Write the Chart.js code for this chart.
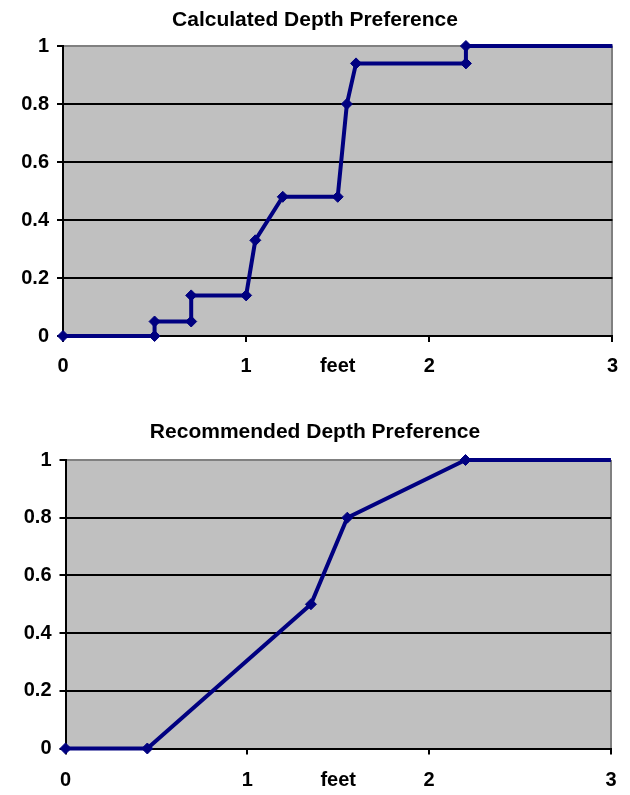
<!DOCTYPE html>
<html>
<head>
<meta charset="utf-8">
<script src="https://cdn.jsdelivr.net/npm/chart.js@4"></script>
<style>
  html, body { margin: 0; padding: 0; background: #ffffff; }
  canvas { position: absolute; left: 0; }
  #calc { top: 0; }
  #rec { top: 395px; }
</style>
</head>
<body>
<canvas id="calc" width="630" height="395"></canvas>
<canvas id="rec" width="630" height="400"></canvas>
<script>
// Calculated curve: depth (feet) vs. preference
const calcDepth = [0, 0.5, 0.5, 0.7, 0.7, 1.0, 1.05, 1.2, 1.5, 1.55, 1.6, 2.2, 2.2, 3];
const calcPref  = [0, 0,   0.05, 0.05, 0.14, 0.14, 0.33, 0.48, 0.48, 0.8, 0.94, 0.94, 1, 1];

// Recommended curve
const recDepth = [0, 0.45, 1.35, 1.55, 2.2, 3];
const recPref  = [0, 0,    0.5,  0.8,  1,   1];

const xTicks = [0, 1, 2, 3];
const yTicks = [0, 0.2, 0.4, 0.6, 0.8, 1];

const FONT = "'Liberation Sans', Arial, sans-serif";
const NAVY = '#000080';
const PLOT_BG = '#c0c0c0';
const TICK_SIZE = 20;
const TITLE_SIZE = 21;

// grey plot-area fill behind the grid
const plotBackground = {
  id: 'plotBackground',
  beforeDraw(chart) {
    const { ctx, chartArea: a } = chart;
    ctx.save();
    ctx.fillStyle = PLOT_BG;
    ctx.fillRect(a.left, a.top, a.right - a.left, a.bottom - a.top);
    ctx.restore();
  }
};

function makeChart(id, title, xs, ys, geo) {
  const pts = xs.map((x, i) => ({ x: x, y: ys[i] }));
  // the trailing point only carries the line to the right edge
  const radii = xs.map((x, i) => (i === xs.length - 1 ? 0 : 5.5));
  return new Chart(document.getElementById(id), {
    type: 'scatter',
    data: {
      datasets: [{
        data: pts,
        showLine: true,
        tension: 0,
        borderColor: NAVY,
        borderWidth: 4,
        pointStyle: 'rectRot',
        pointRadius: radii,
        pointBackgroundColor: NAVY,
        pointBorderColor: NAVY,
        pointBorderWidth: 1,
        clip: false
      }]
    },
    options: {
      responsive: false,
      devicePixelRatio: 1,
      animation: false,
      events: [],
      layout: { padding: { left: geo.side, right: geo.side, top: 0, bottom: 0 } },
      plugins: {
        legend: { display: false },
        tooltip: { enabled: false },
        title: {
          display: true,
          text: title,
          color: '#000',
          font: { family: FONT, size: TITLE_SIZE, weight: 'bold', lineHeight: 1.2 },
          padding: { top: geo.titleTop, bottom: geo.titleBottom }
        }
      },
      scales: {
        x: {
          type: 'linear',
          min: 0,
          max: 3,
          afterBuildTicks: s => { s.ticks = xTicks.map(v => ({ value: v })); },
          afterFit: s => { s.height = geo.xHeight; },
          ticks: {
            color: '#000',
            font: { family: FONT, size: TICK_SIZE, weight: 'bold' },
            padding: geo.xPad,
            maxRotation: 0,
            callback: v => String(v)
          },
          grid: {
            drawOnChartArea: true,
            color: c => (c.tick && c.tick.value === 3 ? '#808080' : 'rgba(0,0,0,0)'),
            tickColor: '#000',
            tickLength: 6,
            lineWidth: 2
          },
          border: { display: true, color: '#000', width: 2 },
          title: {
            display: true,
            text: 'feet',
            color: '#000',
            font: { family: FONT, size: TICK_SIZE, weight: 'bold', lineHeight: 1.2 },
            padding: { top: 0, bottom: geo.feetBottom }
          }
        },
        y: {
          type: 'linear',
          min: 0,
          max: 1,
          afterBuildTicks: s => { s.ticks = yTicks.map(v => ({ value: v })); },
          afterFit: s => { s.width = geo.yWidth; },
          ticks: {
            color: '#000',
            font: { family: FONT, size: TICK_SIZE, weight: 'bold' },
            padding: 8,
            callback: v => String(v)
          },
          grid: {
            drawOnChartArea: true,
            color: c => (c.tick && c.tick.value === 1 ? '#808080' : '#000'),
            tickColor: '#000',
            tickLength: 6,
            lineWidth: 2
          },
          border: { display: true, color: '#000', width: 2 }
        }
      }
    },
    plugins: [plotBackground]
  });
}

makeChart('calc', 'Calculated Depth Preference', calcDepth, calcPref, {
  side: 13, titleTop: 7.4, titleBottom: 13.4, xHeight: 59, xPad: 12, feetBottom: 17, yWidth: 50
});

makeChart('rec', 'Recommended Depth Preference', recDepth, recPref, {
  side: 13, titleTop: 25, titleBottom: 14.8, xHeight: 46.5, xPad: 13.5, feetBottom: 3, yWidth: 52.5
});
</script>
</body>
</html>
